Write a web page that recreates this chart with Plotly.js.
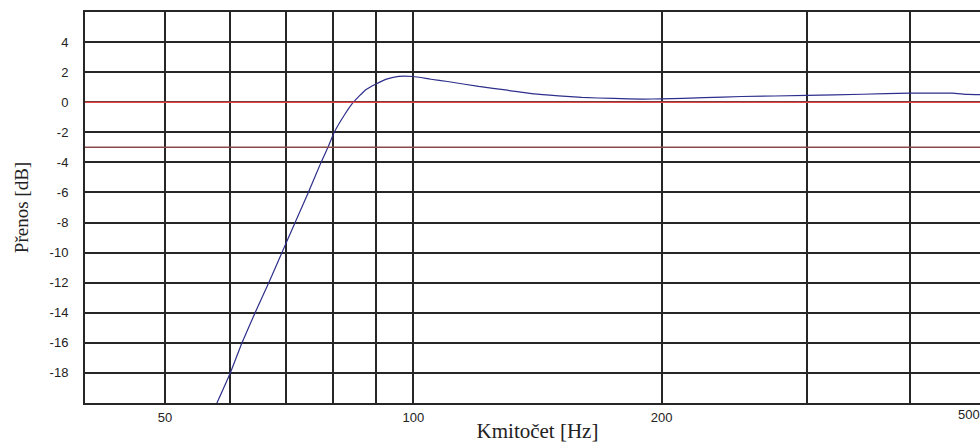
<!DOCTYPE html>
<html>
<head>
<meta charset="utf-8">
<script src="https://cdn.plot.ly/plotly-3.0.1.min.js"></script>
<style>
html, body { margin: 0; padding: 0; overflow: hidden; background: #fff; width: 980px; height: 443px; }
#chart { width: 1000px; height: 443px; }
</style>
</head>
<body>
<div id="chart"></div>
<script>
// Frequency response data
const freqHz = [57.8, 60, 62, 64.3, 66.8, 69.3, 71.9, 74.6, 77.3, 78.8, 80.2, 82.5, 84.6, 87.5, 90, 93, 96, 100, 105, 110, 120, 130, 140, 150, 160, 175, 190, 200, 225, 250, 300, 350, 400, 450, 470, 500];
const gainDb = [-20, -18, -16, -14, -12, -10, -8, -6, -4, -3, -2.0, -0.85, 0.0, 0.82, 1.2, 1.55, 1.72, 1.71, 1.53, 1.38, 1.05, 0.8, 0.55, 0.42, 0.32, 0.25, 0.21, 0.22, 0.3, 0.38, 0.45, 0.53, 0.6, 0.6, 0.52, 0.5];

// Reference levels
const refLevels = [0, -3];
const refColors = ['#e04848', '#8a4a4a'];

// Axes
const xRange = [40, 500];
const yRange = [-20, 6];
const xTickVals = [50, 60, 70, 80, 90, 100, 200, 300, 400, 500];
const xTickText = ['50', '', '', '', '', '100', '200', '', '', '500'];
const yTickVals = [-18, -16, -14, -12, -10, -8, -6, -4, -2, 0, 2, 4];
const yTickText = yTickVals.map(String);

const tickFont = { family: 'Liberation Sans, Arial, sans-serif', size: 13, color: '#222' };
const xTitleFont = { family: 'Liberation Serif, Times New Roman, serif', size: 21, color: '#222' };
const yTitleFont = { family: 'Liberation Serif, Times New Roman, serif', size: 19, color: '#222' };

const traces = [{
  x: freqHz,
  y: gainDb,
  type: 'scatter',
  mode: 'lines',
  line: { color: '#2e2e8c', width: 1.2, shape: 'spline', smoothing: 0.4 },
  hoverinfo: 'x+y',
  cliponaxis: true
}];

const shapes = refLevels.map((lv, i) => ({
  type: 'line', xref: 'paper', yref: 'y', x0: 0, x1: 1, y0: lv, y1: lv,
  line: { color: refColors[i], width: 1.5 }, layer: 'above'
}));

// last label placed so that it stays visible at the cut edge
const lastIdx = xTickText.length - 1;
const plotTickText = xTickText.slice();
plotTickText[lastIdx] = '';
const annotations = [{
  x: Math.log10(xTickVals[lastIdx]), xref: 'x', y: 0, yref: 'paper',
  text: xTickText[lastIdx], showarrow: false, xanchor: 'right', yanchor: 'top',
  xshift: -8, yshift: -2, font: tickFont
}];

const layout = {
  width: 1000,
  height: 443,
  margin: { l: 85, r: 10, t: 12, b: 40 },
  paper_bgcolor: '#ffffff',
  plot_bgcolor: '#ffffff',
  showlegend: false,
  xaxis: {
    type: 'log',
    range: xRange.map(Math.log10),
    tickmode: 'array',
    tickvals: xTickVals,
    ticktext: plotTickText,
    ticks: '',
    showgrid: true,
    gridcolor: '#262626',
    gridwidth: 2,
    showline: true,
    linecolor: '#262626',
    linewidth: 2,
    mirror: true,
    zeroline: false,
    tickfont: tickFont,
    ticklabelstandoff: 1,
    automargin: false,
    title: { text: 'Kmitočet [Hz]', font: xTitleFont, standoff: 0 }
  },
  yaxis: {
    range: yRange,
    tickmode: 'array',
    tickvals: yTickVals,
    ticktext: yTickText,
    ticks: '',
    showgrid: true,
    gridcolor: '#262626',
    gridwidth: 2,
    showline: true,
    linecolor: '#262626',
    linewidth: 2,
    mirror: true,
    zeroline: false,
    tickfont: tickFont,
    ticklabelstandoff: 12,
    automargin: false,
    title: { text: 'Přenos [dB]', font: yTitleFont, standoff: 16 }
  },
  shapes: shapes,
  annotations: annotations
};

Plotly.newPlot('chart', traces, layout, { displayModeBar: false, staticPlot: true });
</script>
</body>
</html>
